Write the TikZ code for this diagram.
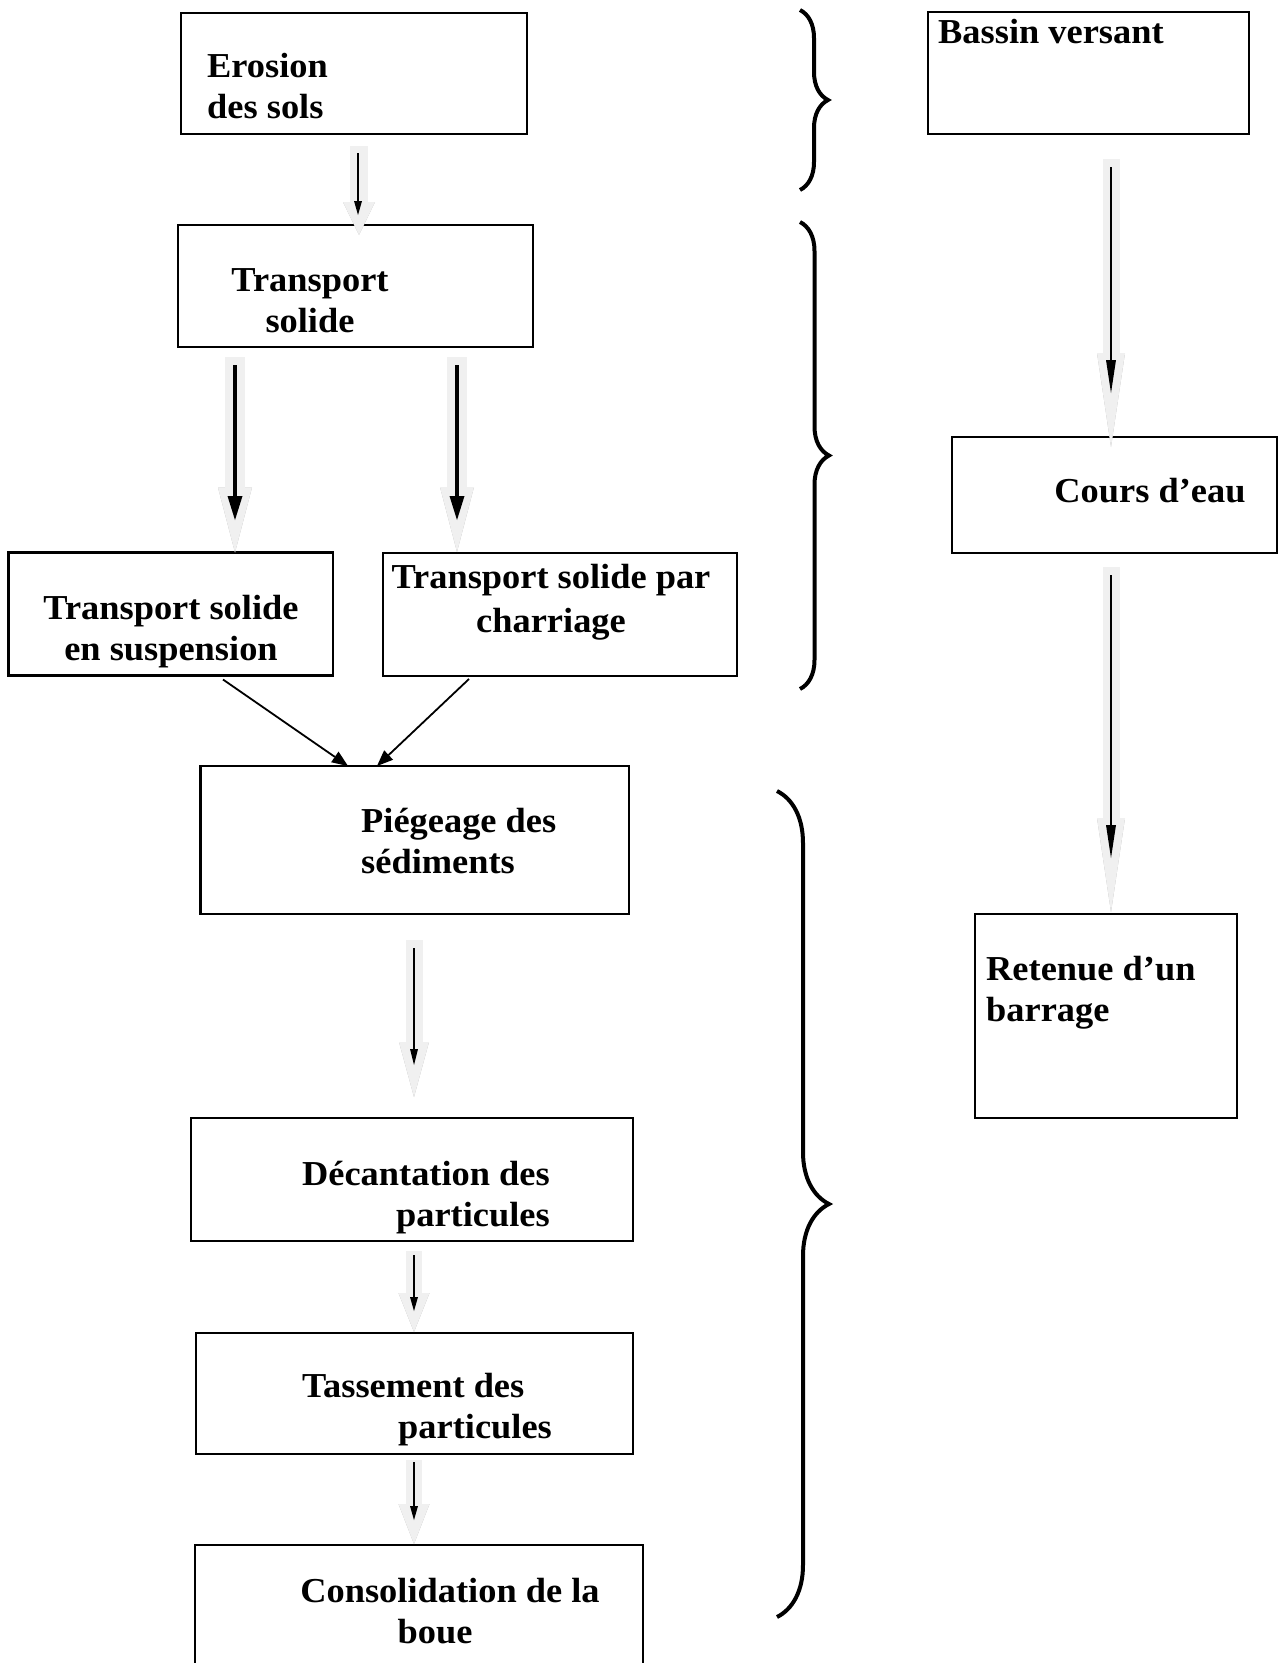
\documentclass[tikz,border=0pt]{standalone}
\usepackage{fontspec}
\setmainfont{Liberation Serif}[FakeStretch=1.04]
\usetikzlibrary{arrows.meta,calc,decorations.pathreplacing}

\tikzset{
  box/.style={draw, line width=2.2pt, inner sep=0pt, outer sep=0pt, anchor=north west},
  lbl/.style={font=\bfseries\fontsize{35}{41}\selectfont, inner sep=0pt},
  blk/.style n args={3}{line width=#1, color=gray!12, -{Triangle[length=#2, width=#3, line width=0pt]}},
  shd/.style n args={3}{line width=#1, color=gray!60, xshift=3pt, yshift=-3pt, -{Triangle[length=#2, width=#3, line width=0pt]}},
  inner/.style n args={3}{line width=#1, -{Triangle[length=#2, width=#3, line width=0pt]}},
  brc/.style={decorate, decoration={brace, amplitude=#1}, line width=4pt}
}

\begin{document}
\begin{tikzpicture}[x=1pt, y=-1pt]
    \useasboundingbox (0,0) rectangle (1280,1663);
    \clip (0,0) rectangle (1280,1663);

    % left column
    \node[box, minimum width=346pt, minimum height=121pt] (erosion) at (181,13) {};
    \node[box, minimum width=355pt, minimum height=122pt] (transport) at (178,225) {};
    \node[box, minimum width=324.5pt, minimum height=123pt] (susp) at (8.5,552.5) {};
    \node[box, minimum width=354pt, minimum height=123pt] (charr) at (383,553) {};
    \node[box, minimum width=428.5pt, minimum height=148pt] (pieg) at (200.5,766) {};
    \node[box, minimum width=442pt, minimum height=123pt] (decant) at (191,1118) {};
    \node[box, minimum width=437pt, minimum height=121pt] (tass) at (196,1333) {};
    \node[box, minimum width=448pt, minimum height=150pt] (conso) at (195,1545) {};

    % right column
    \node[box, minimum width=321pt, minimum height=122pt] (bassin) at (928,12) {};
    \node[box, minimum width=325pt, minimum height=116pt] (cours) at (952,437) {};
    \node[box, minimum width=262pt, minimum height=204pt] (retenue) at (975,914) {};

    % labels (base = last line)
    \node[lbl, anchor=base west, align=left] (erosion-t) at (207,118) {Erosion\\des sols};
    \node[lbl, anchor=base, align=center] (transport-t) at (310,332) {Transport\\solide};
    \node[lbl, anchor=base, align=center] (susp-t) at (171,660) {Transport solide\\en suspension};
    \node[lbl, anchor=base, align=center] (charr-t) at (551,632) {Transport solide par\\[3pt]charriage};
    \node[lbl, anchor=base west, align=left] (pieg-t) at (361,873) {Piégeage des\\sédiments};
    \node[lbl, anchor=base east, align=right] (decant-t) at (550,1226) {Décantation des\\particules};
    \node[lbl, anchor=base west, align=left] (tass-t) at (302,1438) {Tassement des\\\hspace*{96pt}particules};
    \node[lbl, anchor=base, align=center] (conso-t) at (450,1643) {Consolidation de la\\boue\hspace*{30pt}};
    \node[lbl, anchor=base west] (bassin-t) at (938,43) {Bassin versant};
    \node[lbl, anchor=base] (cours-t) at (1150,502) {Cours d’eau};
    \node[lbl, anchor=base west, align=left] (retenue-t) at (986,1021) {Retenue d’un\\barrage};

    % hollow arrows
    \draw[shd={18pt}{33pt}{32pt}] ($(erosion.south)+(5,12)$) -- ($(transport.north)+(3.5,10)$);
    \draw[blk={18pt}{33pt}{32pt}] ($(erosion.south)+(5,12)$) -- ($(transport.north)+(3.5,10)$);
    \draw[inner={1.6pt}{14pt}{8pt}] ($(erosion.south)+(4,19)$) -- ($(transport.north)+(2.5,-10)$);

    \draw[shd={20pt}{65pt}{34pt}] ($(transport.south)+(-120.5,10)$) -- ($(susp.north)+(64.25,0)$);
    \draw[blk={20pt}{65pt}{34pt}] ($(transport.south)+(-120.5,10)$) -- ($(susp.north)+(64.25,0)$);
    \draw[inner={4pt}{24pt}{15pt}] ($(transport.south)+(-120.5,18)$) -- ($(susp.north)+(64.25,-32.5)$);

    \draw[shd={20pt}{65pt}{34pt}] ($(transport.south)+(101.5,10)$) -- ($(charr.north)+(-103,-1)$);
    \draw[blk={20pt}{65pt}{34pt}] ($(transport.south)+(101.5,10)$) -- ($(charr.north)+(-103,-1)$);
    \draw[inner={4pt}{24pt}{15pt}] ($(transport.south)+(101.5,18)$) -- ($(charr.north)+(-103,-33)$);

    \draw[shd={17pt}{94pt}{28pt}] ($(bassin.south)+(22.5,25)$) -- ($(cours.north)+(-3.5,10)$);
    \draw[blk={17pt}{94pt}{28pt}] ($(bassin.south)+(22.5,25)$) -- ($(cours.north)+(-3.5,10)$);
    \draw[inner={2pt}{33pt}{10pt}] ($(bassin.south)+(22.5,33)$) -- ($(cours.north)+(-3.5,-44)$);

    \draw[shd={17pt}{94pt}{28pt}] ($(cours.south)+(-3.5,14)$) -- ($(retenue.north)+(5,-2)$);
    \draw[blk={17pt}{94pt}{28pt}] ($(cours.south)+(-3.5,14)$) -- ($(retenue.north)+(5,-2)$);
    \draw[inner={2pt}{33pt}{10pt}] ($(cours.south)+(-3.5,22)$) -- ($(retenue.north)+(5,-56)$);

    \draw[shd={17pt}{55pt}{30pt}] ($(pieg.south)+(-0.75,26)$) -- ($(decant.north)+(2,-21)$);
    \draw[blk={17pt}{55pt}{30pt}] ($(pieg.south)+(-0.75,26)$) -- ($(decant.north)+(2,-21)$);
    \draw[inner={1.6pt}{16pt}{8pt}] ($(pieg.south)+(-0.75,34)$) -- ($(decant.north)+(2,-53)$);

    \draw[shd={16pt}{39pt}{31pt}] ($(decant.south)+(2,10)$) -- ($(tass.north)+(-0.5,-1)$);
    \draw[blk={16pt}{39pt}{31pt}] ($(decant.south)+(2,10)$) -- ($(tass.north)+(-0.5,-1)$);
    \draw[inner={1.6pt}{14pt}{8pt}] ($(decant.south)+(2,14)$) -- ($(tass.north)+(-0.5,-22)$);

    \draw[shd={16pt}{40pt}{31pt}] ($(tass.south)+(-0.5,6)$) -- ($(conso.north)+(-5,-1)$);
    \draw[blk={16pt}{40pt}{31pt}] ($(tass.south)+(-0.5,6)$) -- ($(conso.north)+(-5,-1)$);
    \draw[inner={1.6pt}{14pt}{8pt}] ($(tass.south)+(-0.5,8)$) -- ($(conso.north)+(-5,-25)$);

    % thin arrows into the trap
    \draw[inner={1.8pt}{16pt}{13pt}] ($(susp.south)+(52.25,4)$) -- ($(pieg.north)+(-66.75,0)$);
    \draw[inner={1.8pt}{16pt}{13pt}] ($(charr.south)+(-91,3)$) -- ($(pieg.north)+(-37.75,0)$);

    % braces
    \draw[brc=28pt] (800,10) -- (800,190);
    \draw[brc=29pt] (800,222) -- (800,689);
    \draw[brc=52pt] (777,791) -- (777,1617);
\end{tikzpicture}
\end{document}
